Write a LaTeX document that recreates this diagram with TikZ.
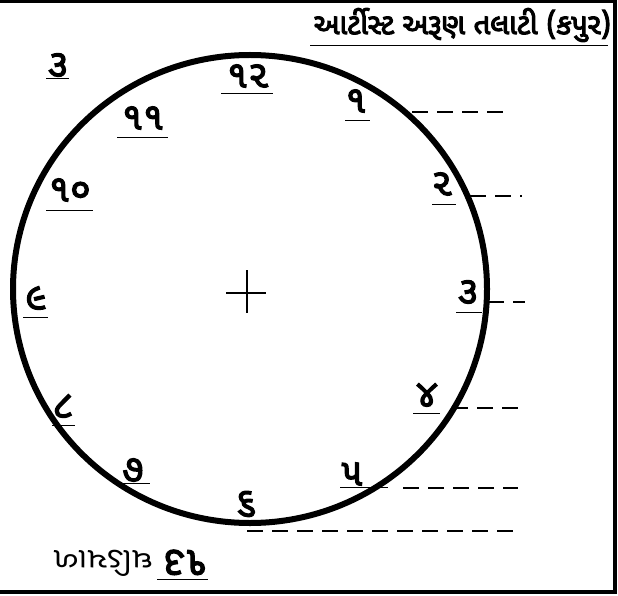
\documentclass[tikz,border=0pt]{standalone}
\usepackage{fontspec}
\newfontfamily\gujfont[Script=Gujarati]{Noto Sans Gujarati UI}
\newfontfamily\gujbold[Script=Gujarati,FakeBold=3]{Noto Sans Gujarati UI}
\newfontfamily\gujheavy[Script=Gujarati,FakeBold=4]{Noto Sans Gujarati UI}
\usetikzlibrary{positioning}

\begin{document}
\begin{tikzpicture}[
    x=1pt, y=-1pt,
    every node/.style={inner sep=0pt, outer sep=0pt},
    numeral/.style={font=\gujbold\fontsize{38}{38}\selectfont},
    tickline/.style={line width=0.9pt},
    guide/.style={line width=2.6pt, dash pattern=on 16pt off 9pt},
]

\def\cx{250}   % dial centre
\def\cy{289}
\def\rx{237}   % dial radii
\def\ry{234}

\useasboundingbox (0,0) rectangle (618,596);

% ---------------------------------------------------------------- frame
\draw[line width=4pt] (0,1) -- (615,1) -- (615,592) -- (0,592);

% ---------------------------------------------------------------- title
\node[font=\gujheavy\fontsize{29}{29}\selectfont, anchor=east] (title)
    at (611, 25) {આર્ટીસ્ટ અરૂણ તલાટી (કપુર)};
\draw[tickline] (310, 45) -- (608, 45);

% ---------------------------------------------------------------- dial
\draw[line width=6pt] (\cx,\cy) ellipse [x radius=\rx, y radius=\ry];

% centre mark
\coordinate (mid) at (247, 293);
\draw[line width=2pt] ([xshift=-21pt]mid) -- ([xshift=19pt]mid);
\draw[line width=2pt] ([yshift=23pt]mid) -- ([yshift=-20pt]mid);

% ---------------------------------------------------------------- numerals
\foreach \lbl/\x/\y/\nm in {%
    ૧૨/248/76/n12, ૧/356/101/n1, ૨/442/184/n2, ૩/468/292/n3,
    ૪/427/395/n4, ૫/352/474/n5, ૬/246/504/n6, ૭/133/470/n7,
    ૮/63/406/n8, ૯/36/298/n9, ૧૦/70/190/n10, ૧૧/143/118/n11,
    ૩/58/65/nthree} {
  \node[numeral] (\nm) at (\x,\y) {\lbl};
}

% short strokes under the numerals
\foreach \xa/\xb/\y in {%
    221/273/93, 345/370/120, 432/456/204, 456/482/312,
    413/440/413, 340/388/487, 235/256/520, 120/150/483,
    52/75/425, 23/48/317, 46/93/210, 117/168/137, 46/69/78} {
  \draw[tickline] (\xa,\y) -- (\xb,\y);
}

% ---------------------------------------------------------------- dashed guides
\foreach \i/\xa/\xb/\y in {%
    1/412/508/112, 2/470/522/196, 3/488/525/302,
    4/452/520/408, 5/403/518/488, 6/247/518/531} {
  \coordinate (g\i a) at (\xa,\y);
  \coordinate (g\i b) at (\xb,\y);
  \draw[guide] (g\i a) -- (g\i b);
}

% ---------------------------------------------------------------- caption (printed upside down)
\node[rotate=180, anchor=west] (caption) at (208, 563)
    {{\gujbold\fontsize{41}{41}\selectfont ૧૩}\hspace{10pt}%
     \scalebox{1.15}[1]{\gujfont\fontsize{29}{29}\selectfont ઘડિયાળ}};
\draw[tickline] (157, 579) -- (208, 579);

\end{tikzpicture}
\end{document}
